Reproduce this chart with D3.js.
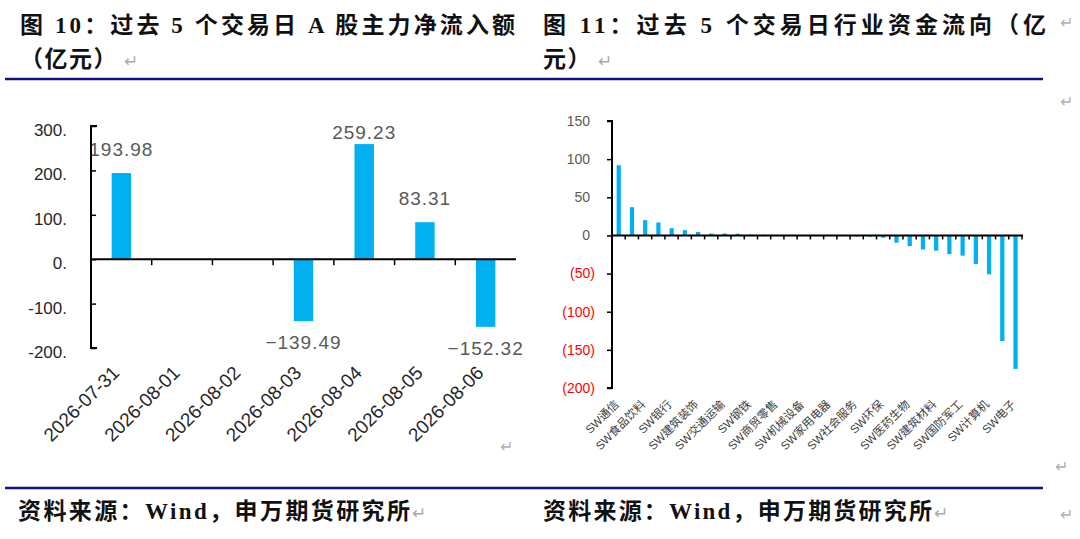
<!DOCTYPE html>
<html>
<head>
<meta charset="utf-8">
<script src="https://cdn.jsdelivr.net/npm/d3@7"></script>
<style>
  body { margin: 0; background: #ffffff; }
  svg { display: block; }
</style>
</head>
<body>
<div id="content_svg"></div>
<script>
// ---- datos grafico izquierdo (图10) ----
const fechas = ["2026-07-31", "2026-08-01", "2026-08-02", "2026-08-03", "2026-08-04", "2026-08-05", "2026-08-06"];
const flujoNeto = [193.98, null, null, -139.49, 259.23, 83.31, -152.32];
const ticksIzq = [-200, -100, 0, 100, 200, 300];
const ticksIzqLabels = ["-200.", "-100.", "0.", "100.", "200.", "300."];

// ---- datos grafico derecho (图11) ----
const industrias = ["SW通信", "SW传媒", "SW食品饮料", "SW非银金融", "SW银行", "SW汽车", "SW建筑装饰", "SW电力设备",
  "SW交通运输", "SW公用事业", "SW钢铁", "SW煤炭", "SW商贸零售", "SW石油石化", "SW机械设备", "SW纺织服饰",
  "SW家用电器", "SW轻工制造", "SW社会服务", "SW综合", "SW环保", "SW美容护理", "SW医药生物", "SW房地产",
  "SW建筑材料", "SW农林牧渔", "SW国防军工", "SW基础化工", "SW计算机", "SW有色金属", "SW电子"];
const flujoIndustria = [92, 37, 20, 17, 9.5, 7, 4.5, 2.5, 2.5, 2.2, 1.2, 0.8, 0.6, 0.4, 0.3, -0.3,
  -0.5, -0.8, -1.3, -1.8, -3, -9.5, -14, -18.5, -20, -24.5, -26.5, -37.5, -51, -138.5, -175];
const ticksDer = [-200, -150, -100, -50, 0, 50, 100, 150];

const titulo1 = ["图 10：过去 5 个交易日 A 股主力净流入额", "（亿元）"];
const titulo2 = ["图 11：过去 5 个交易日行业资金流向（亿", "元）"];
const fuente = "资料来源：Wind，申万期货研究所";

const AZUL = "#00B0F0";
const FONT_TIT = "'Liberation Serif', 'Noto Sans CJK SC', serif";
const FONT_NUM = "'Liberation Sans', 'Noto Sans CJK SC', sans-serif";

var svg = d3.select("#content_svg")
  .append("svg")
  .attr("width", 1080)
  .attr("height", 539);

svg.append("rect").attr("width", 1080).attr("height", 539).attr("fill", "#ffffff");

// ---- titulos ----
function titulo(x, lineas, ancho) {
  svg.append("text")
    .attr("x", x).attr("y", 33)
    .attr("textLength", ancho)
    .attr("lengthAdjust", "spacing")
    .attr("font-family", FONT_TIT)
    .attr("font-weight", "bold")
    .attr("font-size", 23)
    .attr("fill", "#111")
    .text(lineas[0]);
  var t2 = svg.append("text")
    .attr("x", x).attr("y", 67)
    .attr("font-family", FONT_TIT)
    .attr("font-weight", "bold")
    .attr("font-size", 23)
    .attr("letter-spacing", 1.5)
    .attr("fill", "#111")
    .text(lineas[1]);
  t2.append("tspan")
    .attr("font-weight", "normal")
    .attr("font-size", 17)
    .attr("fill", "#aaaaaa")
    .text(" ↵");
}
titulo(20, titulo1, 495);
titulo(543, titulo2, 503);

// marcas de parrafo
function marca(x, y, size) {
  svg.append("text")
    .attr("x", x).attr("y", y)
    .attr("font-family", FONT_NUM)
    .attr("font-size", size || 16)
    .attr("fill", "#b0b0b0")
    .text("↵");
}
marca(1060, 28);
marca(1060, 107);
marca(500, 452);
marca(1055, 472);
marca(1060, 520);

// lineas azules
[79, 488].forEach(function (yy) {
  svg.append("line")
    .attr("x1", 5).attr("x2", 1043)
    .attr("y1", yy).attr("y2", yy)
    .attr("stroke", "#10108a")
    .attr("stroke-width", 2.5);
});

// fuente
[[18, 392], [543, 389]].forEach(function (p) {
  svg.append("text")
    .attr("x", p[0]).attr("y", 519)
    .attr("font-family", FONT_TIT)
    .attr("font-weight", "bold")
    .attr("font-size", 23)
    .attr("fill", "#111")
    .attr("textLength", p[1])
    .attr("lengthAdjust", "spacing")
    .text(fuente);
  svg.append("text")
    .attr("x", p[0] + p[1] + 2).attr("y", 519)
    .attr("font-family", FONT_NUM)
    .attr("font-size", 17)
    .attr("fill", "#aaaaaa")
    .text("↵");
});

// ================= grafico izquierdo =================
function graficoIzq() {
  var x = d3.scaleBand().domain(fechas).range([91, 516]);
  var y = d3.scaleLinear().domain([-200, 300]).range([348, 126]);
  var g = svg.append("g");

  var datos = fechas.map(function (d, i) { return { f: d, v: flujoNeto[i] }; })
    .filter(function (d) { return d.v !== null; });

  g.selectAll("rect.bar")
    .data(datos)
    .enter().append("rect")
    .attr("class", "bar")
    .attr("x", d => x(d.f) + x.bandwidth() * 0.34)
    .attr("width", x.bandwidth() * 0.32)
    .attr("y", d => y(Math.max(0, d.v)))
    .attr("height", d => Math.abs(y(d.v) - y(0)))
    .attr("fill", AZUL);

  // etiquetas de valor
  g.selectAll("text.val")
    .data(datos)
    .enter().append("text")
    .attr("class", "val")
    .attr("x", d => x(d.f) + x.bandwidth() / 2)
    .attr("y", d => d.v >= 0 ? Math.max(y(d.v) - 17, y(300) + 13) : y(d.v) + 28)
    .attr("text-anchor", "middle")
    .attr("font-family", FONT_NUM)
    .attr("font-size", 19)
    .attr("letter-spacing", 1)
    .attr("fill", "#595959")
    .text(d => d3.format(".2f")(d.v));

  // eje y
  var ejeY = d3.axisRight(y).tickValues(ticksIzq).tickSize(5).tickFormat("");
  g.append("g")
    .attr("transform", "translate(91,0)")
    .call(ejeY)
    .call(s => s.select(".domain").attr("stroke", "#000").attr("stroke-width", 2).attr("d", "M6,126H0V348H6"))
    .call(s => s.selectAll(".tick line").attr("stroke", "#000").attr("stroke-width", 1.5));

  g.selectAll("text.ytick")
    .data(ticksIzq)
    .enter().append("text")
    .attr("class", "ytick")
    .attr("x", 67)
    .attr("y", d => y(d) + 4)
    .attr("dy", "0.35em")
    .attr("text-anchor", "end")
    .attr("font-family", FONT_NUM)
    .attr("font-size", 17)
    .attr("fill", "#262626")
    .text((d, i) => ticksIzqLabels[i]);

  // eje x en cero
  var ejeX = d3.axisBottom(x).tickSize(0).tickFormat("");
  g.append("g")
    .attr("transform", "translate(0," + y(0) + ")")
    .call(ejeX)
    .call(s => s.select(".domain").attr("stroke", "#000").attr("stroke-width", 2).attr("d", "M91,0H516"));
  g.selectAll("line.xt")
    .data(fechas.slice(1))
    .enter().append("line")
    .attr("class", "xt")
    .attr("x1", d => x(d)).attr("x2", d => x(d))
    .attr("y1", y(0)).attr("y2", y(0) + 6)
    .attr("stroke", "#000").attr("stroke-width", 1.5);

  // fechas rotadas
  g.selectAll("text.xlab")
    .data(fechas)
    .enter().append("text")
    .attr("class", "xlab")
    .attr("transform", d => "translate(" + (x(d) + x.bandwidth() / 2 - 1) + ",374) rotate(-45)")
    .attr("text-anchor", "end")
    .attr("font-family", FONT_NUM)
    .attr("font-size", 19)
    .attr("fill", "#262626")
    .text(d => d);
}

// ================= grafico derecho =================
function graficoDer() {
  var x = d3.scaleBand().domain(industrias).range([612, 1022]);
  var y = d3.scaleLinear().domain([-200, 150]).range([388, 121]);
  var g = svg.append("g");

  g.selectAll("rect.bar")
    .data(industrias)
    .enter().append("rect")
    .attr("class", "bar")
    .attr("x", d => x(d) + x.bandwidth() * 0.35)
    .attr("width", x.bandwidth() * 0.32)
    .attr("y", (d, i) => y(Math.max(0, flujoIndustria[i])))
    .attr("height", (d, i) => Math.abs(y(flujoIndustria[i]) - y(0)))
    .attr("fill", AZUL);

  // eje y
  var ejeY = d3.axisLeft(y).tickValues(ticksDer).tickSize(5).tickFormat("");
  g.append("g")
    .attr("transform", "translate(612,0)")
    .call(ejeY)
    .call(s => s.select(".domain").attr("stroke", "#000").attr("stroke-width", 2).attr("d", "M-5,121H0V388H-5"))
    .call(s => s.selectAll(".tick line").attr("stroke", "#000").attr("stroke-width", 1.5));

  g.selectAll("text.ytick")
    .data(ticksDer)
    .enter().append("text")
    .attr("class", "ytick")
    .attr("x", d => d < 0 ? 595 : 590)
    .attr("y", d => y(d))
    .attr("dy", "0.35em")
    .attr("text-anchor", "end")
    .attr("font-family", FONT_NUM)
    .attr("font-size", 14)
    .attr("fill", d => d < 0 ? "#ff0000" : "#595959")
    .text(d => d < 0 ? "(" + Math.abs(d) + ")" : d);

  // eje x en cero con marcas
  g.append("line")
    .attr("x1", 612).attr("x2", 1023)
    .attr("y1", y(0)).attr("y2", y(0))
    .attr("stroke", "#000").attr("stroke-width", 2);
  g.selectAll("line.xt")
    .data(industrias)
    .enter().append("line")
    .attr("class", "xt")
    .attr("x1", d => x(d) + x.bandwidth()).attr("x2", d => x(d) + x.bandwidth())
    .attr("y1", y(0)).attr("y2", y(0) + 4)
    .attr("stroke", "#000").attr("stroke-width", 1.5);

  // etiquetas, una de cada dos
  g.selectAll("text.xlab")
    .data(industrias.filter((d, i) => i % 2 === 0))
    .enter().append("text")
    .attr("class", "xlab")
    .attr("transform", d => "translate(" + (x(d) + x.bandwidth() / 2 + 1) + ",405) rotate(-45)")
    .attr("text-anchor", "end")
    .attr("font-family", FONT_NUM)
    .attr("font-size", 11.5)
    .attr("fill", "#404040")
    .text(d => d);
}

graficoIzq();
graficoDer();
</script>
</body>
</html>
